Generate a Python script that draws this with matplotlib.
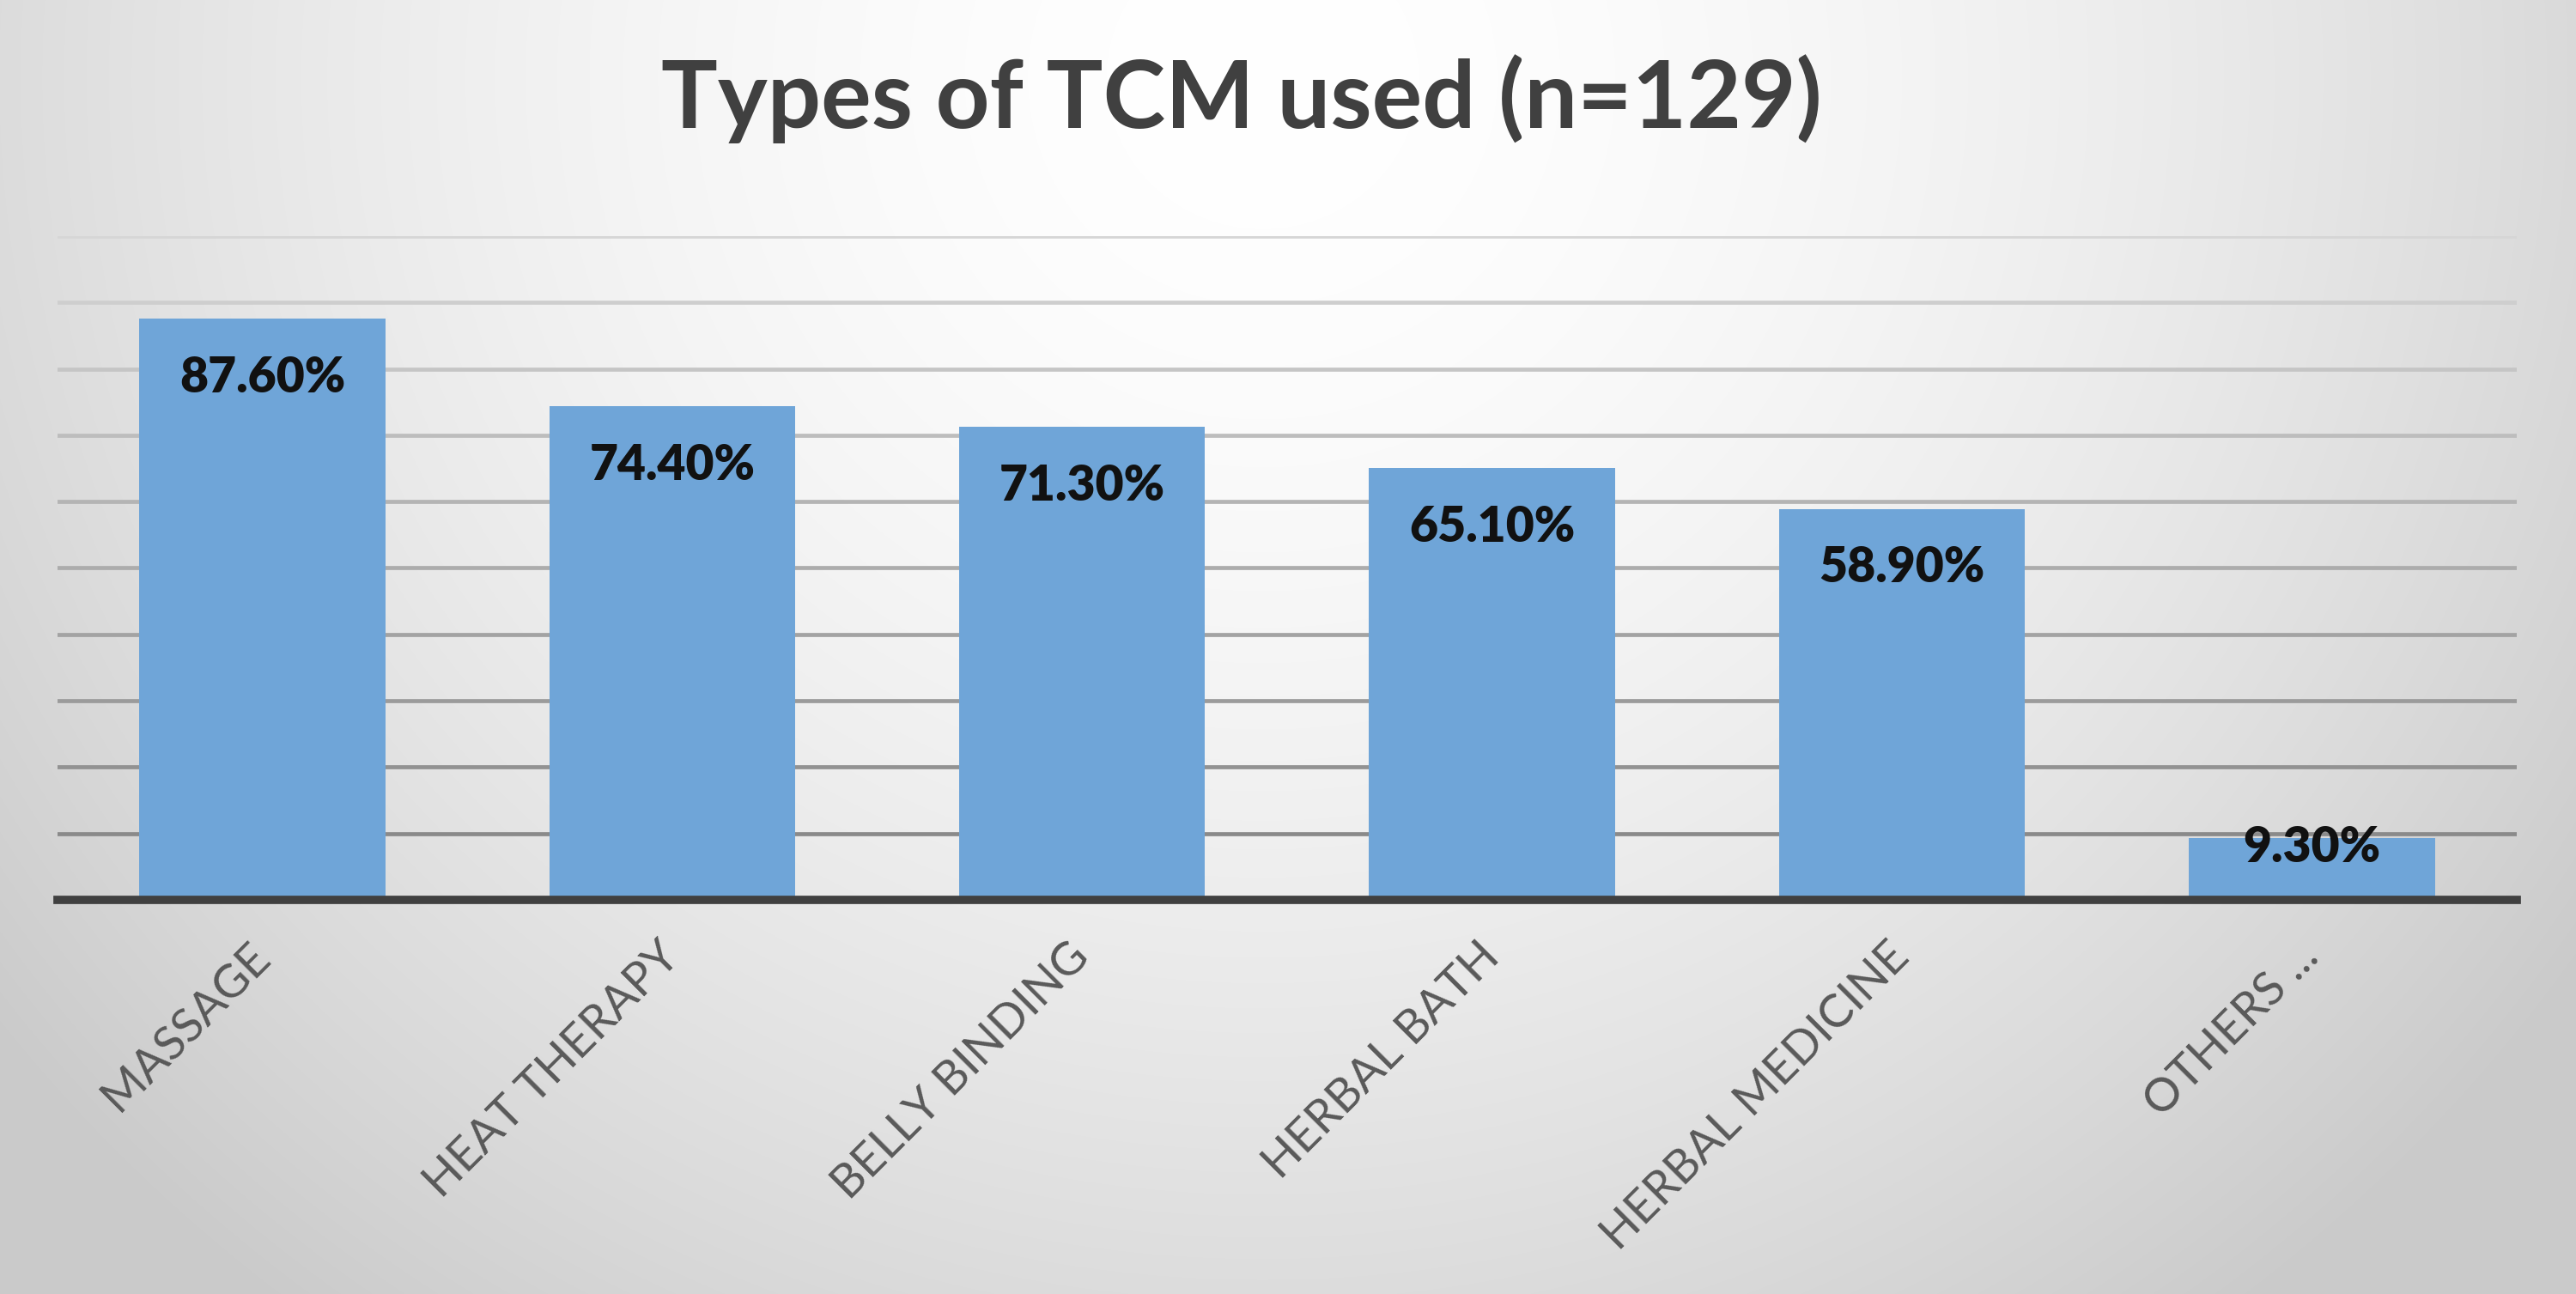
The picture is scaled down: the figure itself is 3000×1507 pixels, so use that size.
import numpy as np
import matplotlib
matplotlib.use("Agg")
import matplotlib.pyplot as plt
from matplotlib.colors import to_rgb

categories = ["MASSAGE", "HEAT THERAPY", "BELLY BINDING", "HERBAL BATH",
              "HERBAL MEDICINE", "OTHERS ..."]
values = [87.6, 74.4, 71.3, 65.1, 58.9, 9.3]
value_labels = ["87.60%", "74.40%", "71.30%", "65.10%", "58.90%", "9.30%"]
title = "Types of TCM used (n=129)"
grid_levels = [10, 20, 30, 40, 50, 60, 70, 80, 90, 100]

plt.rcParams['font.family'] = ['Lato', 'DejaVu Sans']

W, H = 3000, 1507
fig = plt.figure(figsize=(W / 100, H / 100), dpi=100)

# background radial gradient
bg = fig.add_axes([0, 0, 1, 1], zorder=0)
yy, xx = np.mgrid[0:H, 0:W]
cx, cy = 0.49 * W, 0.06 * H
d = np.sqrt(((xx - cx) / 1550.0) ** 2 + ((yy - cy) / 1500.0) ** 2)
shade = 1.0 - 0.15 * np.clip(d, 0, 1.2) ** 1.7
img = np.dstack([shade, shade, shade])
bg.imshow(img, extent=[0, 1, 0, 1], aspect='auto', origin='upper')
bg.set_axis_off()

ax = fig.add_axes([0.0223, 0.3046, 0.9547, 0.5129], zorder=1)
ax.set_facecolor('none')
x = np.arange(len(categories))
ax.set_xlim(-0.5, len(categories) - 0.5)
ax.set_ylim(0, 100)

# gridlines, lighter toward the top
c_low = np.array(to_rgb('#8a8a8a'))
c_high = np.array(to_rgb('#d6d6d6'))
for g in grid_levels:
    t = (g - 10) / 90.0
    col = c_low * (1 - t) + c_high * t
    ax.axhline(g, color=col, lw=3.4, zorder=0.5)

ax.bar(x, values, width=0.6, color='#6fa5d8', zorder=2)
ax.axhline(0, color='#404040', lw=7, zorder=3, clip_on=False)

for xi, v, lab in zip(x, values, value_labels):
    ly = v - 8.9 if v - 8.9 > 4 else v - 1.4
    ax.text(xi, ly, lab, ha='center', va='center', fontsize=41,
            fontweight='heavy', color='#111111', zorder=4)

ax.set_xticks(x)
ax.set_xticklabels(categories, rotation=45, ha='right', va='center',
                   rotation_mode='anchor', fontsize=39, color='#595959')
ax.tick_params(axis='x', length=0, pad=42)
ax.set_yticks([])
for s in ax.spines.values():
    s.set_visible(False)

fig.text(0.482, 0.901, title, ha='center', va='baseline', fontsize=79,
         fontweight='bold', color='#404040')

fig.savefig('out.png', dpi=100)
